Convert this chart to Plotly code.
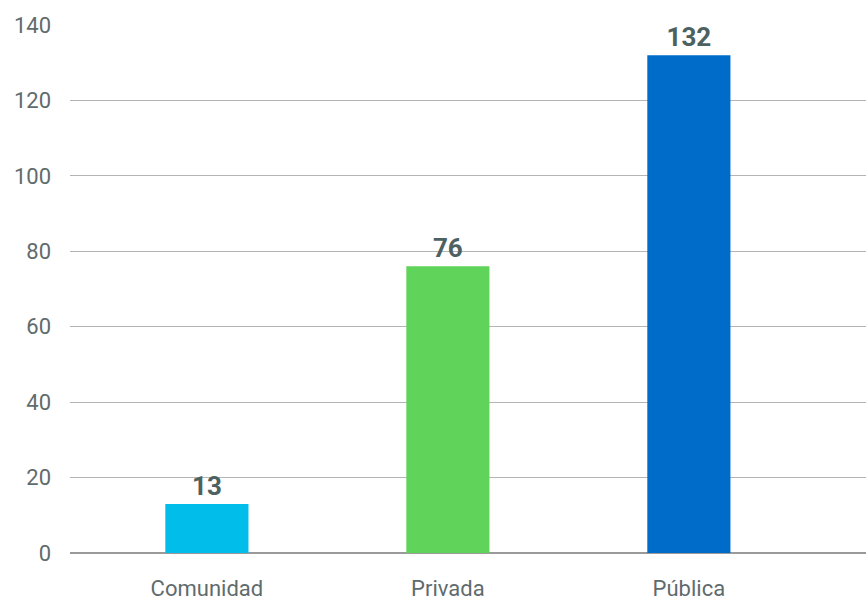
import plotly.graph_objects as go

categories = ["Comunidad", "Privada", "Pública"]
values = [13, 76, 132]
bar_colors = ["#00BDEA", "#5FD35A", "#006CC9"]
y_ticks = [0, 20, 40, 60, 80, 100, 120, 140]

fig = go.Figure(
    go.Bar(
        x=categories,
        y=values,
        marker=dict(color=bar_colors, line=dict(width=0)),
        width=0.345,
        text=[str(v) for v in values],
        textposition="outside",
        textfont=dict(family="Roboto", size=26, color="#4D6161", weight="bold"),
        cliponaxis=False,
    )
)

fig.update_layout(
    width=866,
    height=602,
    margin=dict(l=70, r=0, t=25, b=49),
    paper_bgcolor="white",
    plot_bgcolor="white",
    showlegend=False,
    font=dict(family="Roboto", size=22, color="#5F6B6D"),
    xaxis=dict(
        range=[-0.568, 2.735],
        showgrid=False,
        zeroline=False,
        showline=False,
        ticks="",
        ticklabelstandoff=20,
        tickfont=dict(size=22, color="#5F6B6D"),
    ),
    yaxis=dict(
        range=[0, 140],
        tickvals=y_ticks,
        showgrid=True,
        gridcolor="#B4B4B4",
        gridwidth=1,
        zeroline=True,
        zerolinecolor="#9A9A9A",
        zerolinewidth=2,
        showline=False,
        ticks="",
        ticklabelstandoff=18,
        tickfont=dict(size=22, color="#5F6B6D"),
    ),
)

fig.write_html("out.html")
